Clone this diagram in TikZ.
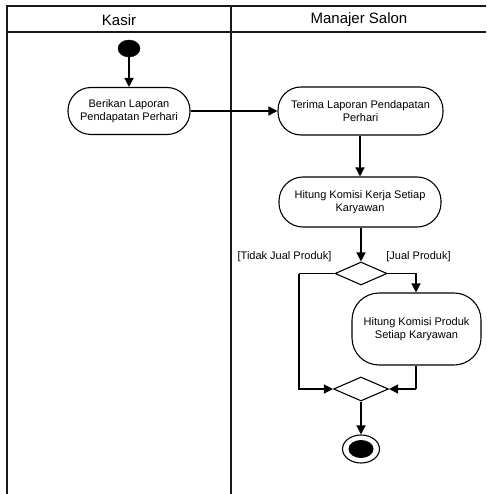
\documentclass[tikz,border=0pt]{standalone}
\usepackage{fontspec}
\setmainfont{Liberation Sans}
\usetikzlibrary{arrows.meta,shapes.geometric,positioning}
\begin{document}
\begin{tikzpicture}[x=1pt,y=-1pt,
  frameline/.style={line width=1.6pt,draw=black!90},
  act/.style={draw,line width=1.1pt,align=center,inner sep=0pt,
    font=\fontsize{11}{12.5}\selectfont},
  flow/.style={line width=1.4pt,-{Triangle[length=9pt,width=9pt]}},
  plain/.style={line width=1.4pt},
  decis/.style={draw,diamond,line width=1.1pt,inner sep=0pt},
  guard/.style={font=\fontsize{11}{12.5}\selectfont,inner sep=0pt},
  lanehead/.style={font=\fontsize{15}{17}\selectfont,inner sep=0pt}]
\useasboundingbox (0,0) rectangle (486,494);
% frame
\draw[frameline] (7,494) -- (7,6) -- (486,6);
\draw[frameline] (7,32) -- (486,32);
\draw[frameline] (231,6) -- (231,494);
\node[lanehead] (h1) at (119,20) {Kasir};
\node[lanehead] (h2) at (359,20) {Manajer Salon};
% nodes
\node[ellipse,fill=black,draw,minimum width=22pt,minimum height=17pt,inner sep=0pt] (start) at (129,48.5) {};
\node[act,rounded corners=23pt,minimum width=122pt,minimum height=47pt] (a1) at (129,111) {Berikan Laporan\\Pendapatan Perhari};
\node[act,rounded corners=23pt,minimum width=165pt,minimum height=48pt] (a2) at (360.5,111) {Terima Laporan Pendapatan\\Perhari};
\node[act,rounded corners=24pt,minimum width=162pt,minimum height=50pt] (a3) at (360,202) {Hitung Komisi Kerja Setiap\\Karyawan};
\node[decis,minimum width=52pt,minimum height=23pt] (d1) at (361,273.5) {};
\node[act,rounded corners=27pt,minimum width=129pt,minimum height=72pt] (a4) at (416.5,329) {Hitung Komisi Produk\\Setiap Karyawan};
\node[decis,minimum width=55pt,minimum height=24pt] (m1) at (361,389) {};
\node[ellipse,draw,line width=1.1pt,minimum width=37pt,minimum height=28pt,inner sep=0pt] (fin) at (361,449) {};
\node[ellipse,fill=black,minimum width=25pt,minimum height=18pt,inner sep=0pt] (fininner) at (361,449) {};
% guards
\node[guard] (g1) at (284.5,257) {[Tidak Jual Produk]};
\node[guard] (g2) at (418.5,257) {[Jual Produk]};
% connectors
\coordinate (c1) at (299,273.5);
\coordinate (c2) at (299,389);
\coordinate (c3) at (416,389);
\draw[flow] (start) -- (a1);
\draw[flow] (a1) -- (a2);
\draw[flow] (a2.south -| a3.north) -- (a3.north);
\draw[flow] (a3.south -| d1.north) -- (d1.north);
\draw[flow] (d1.east) -| (a4.north -| c3);
\draw[plain] (d1.west) -- (c1);
\draw[flow] (c1) -- (c2) -- (m1.west);
\draw[plain] (a4.south -| c3) -- (c3);
\draw[flow] (c3) -- (m1.east);
\draw[flow] (m1.south) -- (fin.north);
\end{tikzpicture}
\end{document}
